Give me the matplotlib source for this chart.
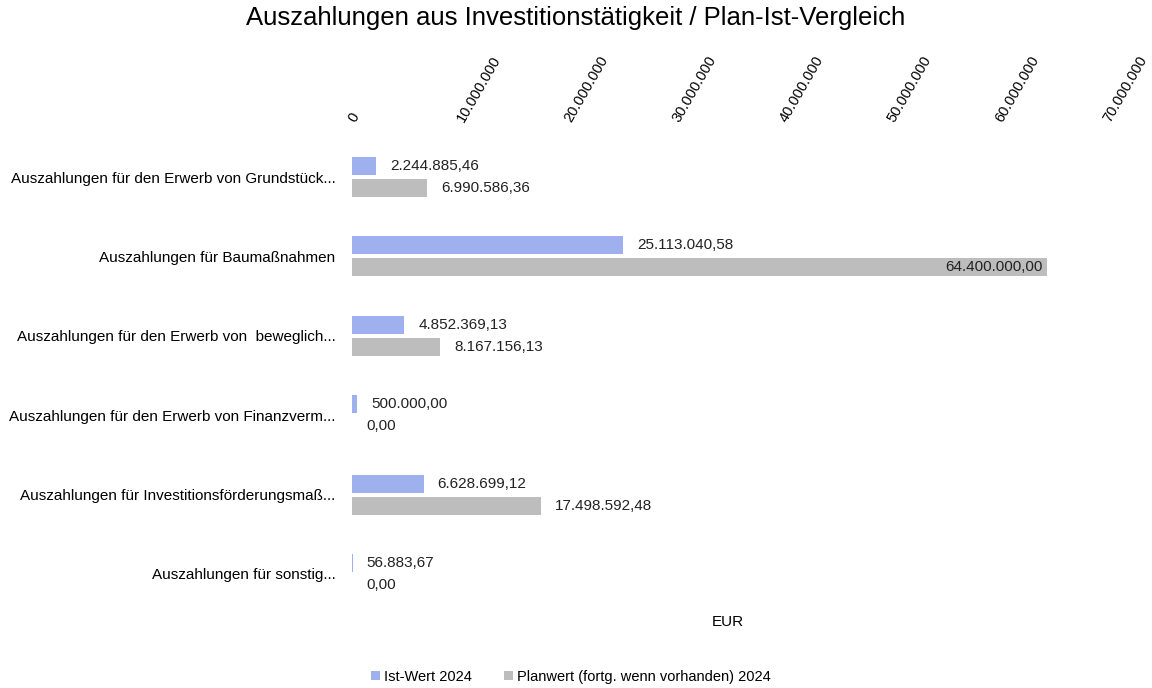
import matplotlib
matplotlib.use("Agg")
import matplotlib.pyplot as plt
import numpy as np
from matplotlib.ticker import FuncFormatter

plt.rcParams['font.family'] = ['Liberation Sans', 'DejaVu Sans']

categories = [
    'Auszahlungen für den Erwerb von Grundstück...',
    'Auszahlungen für Baumaßnahmen',
    'Auszahlungen für den Erwerb von  beweglich...',
    'Auszahlungen für den Erwerb von Finanzverm...',
    'Auszahlungen für Investitionsförderungsmaß...',
    'Auszahlungen für sonstig...',
]
ist_2024 = [2244885.46, 25113040.58, 4852369.13, 500000.00, 6628699.12, 56883.67]
plan_2024 = [6990586.36, 64400000.00, 8167156.13, 0.00, 17498592.48, 0.00]
x_ticks = [0, 10e6, 20e6, 30e6, 40e6, 50e6, 60e6, 70e6]

blue = '#9fb0ee'
grey = '#bdbdbd'


def de_fmt(v, dec=2):
    s = f"{v:,.{dec}f}"
    return s.replace(',', 'X').replace('.', ',').replace('X', '.')


fig = plt.figure(figsize=(11.52, 6.88), dpi=100)
ax = fig.add_axes([0.3056, 0.1081, 0.6554, 0.6922])

y = np.arange(len(categories))
h = 0.227
off = 0.139
r1 = ax.barh(y - off, ist_2024, h, color=blue, label='Ist-Wert 2024')
r2 = ax.barh(y + off, plan_2024, h, color=grey, label='Planwert (fortg. wenn vorhanden) 2024')

ax.bar_label(r1, labels=[de_fmt(v) for v in ist_2024], padding=10, fontsize=11, color='#222222')
# the largest plan value does not fit outside -> put it inside the bar end
plan_labels = [de_fmt(v) if v < 60e6 else '' for v in plan_2024]
ax.bar_label(r2, labels=plan_labels, padding=10, fontsize=11, color='#222222')
for i, v in enumerate(plan_2024):
    if v >= 60e6:
        ax.annotate(de_fmt(v), (v, i + off), xytext=(-3, 0), textcoords='offset points',
                    ha='right', va='center', fontsize=11, color='#222222')

ax.set_xlim(0, 70e6)
ax.set_ylim(5.5, -0.5)
ax.set_yticks(y, categories)
ax.set_xticks(x_ticks)
ax.xaxis.set_major_formatter(FuncFormatter(lambda v, p: de_fmt(v, 0)))
ax.tick_params(axis='x', top=True, labeltop=True, bottom=False, labelbottom=False,
               length=0, pad=12, labelsize=10.5)
ax.tick_params(axis='y', length=0, pad=12, labelsize=11)
for lbl in ax.get_xticklabels():
    lbl.set_rotation(60)
    lbl.set_ha('left')
    lbl.set_va('center')
    lbl.set_rotation_mode('anchor')
for s in ax.spines.values():
    s.set_visible(False)

fig.text(728 / 1152, 1 - 622 / 688, 'EUR', ha='center', va='center', fontsize=11)
fig.suptitle('Auszahlungen aus Investitionstätigkeit / Plan-Ist-Vergleich',
             x=0.5, y=1 - 18 / 688, va='center', fontsize=18.5)
fig.legend(loc='center', bbox_to_anchor=(571 / 1152, 1 - 677 / 688), ncol=2,
           frameon=False, fontsize=10.5, handlelength=0.6, handleheight=0.6,
           handletextpad=0.3, columnspacing=2.2)

fig.savefig('out.png', dpi=100)
